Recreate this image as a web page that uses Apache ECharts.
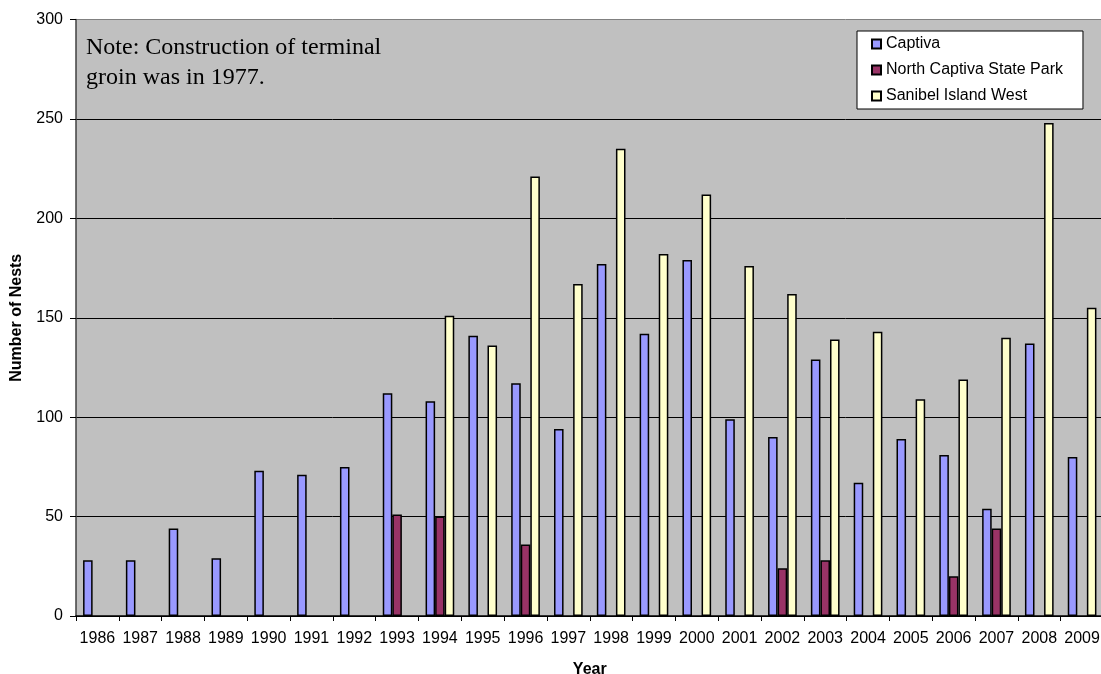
<!DOCTYPE html>
<html>
<head>
<meta charset="utf-8">
<script src="https://cdn.jsdelivr.net/npm/echarts@6/dist/echarts.min.js"></script>
<style>html,body{margin:0;padding:0;background:#fff;}#c{width:1101px;height:674px;}</style>
</head>
<body>
<div id="c"></div>
<script>
var years = ['1986','1987','1988','1989','1990','1991','1992','1993','1994','1995','1996','1997','1998','1999','2000','2001','2002','2003','2004','2005','2006','2007','2008','2009'];
var captiva = [28,28,44,29,73,71,75,112,108,141,117,94,177,142,179,99,90,129,67,89,81,54,137,80];
var northCaptiva = [null,null,null,null,null,null,null,51,50,null,36,null,null,null,null,null,24,28,null,null,20,44,null,null];
var sanibelWest = [null,null,null,null,null,null,null,null,151,136,221,167,235,182,212,176,162,139,143,109,119,140,248,155];
var yTicks = [0,50,100,150,200,250,300];

var chart = echarts.init(document.getElementById('c'), null, {renderer:'canvas'});
var bs = {borderColor:'#000', borderWidth:1.5};
var ff = '"Liberation Sans", Arial, sans-serif';
chart.setOption({
  animation:false,
  grid:{left:76, top:19.5, width:1027.5, height:596.5, show:true, backgroundColor:'#C0C0C0', borderWidth:0, containLabel:false, outerBoundsMode:'none'},
  legend:{
    orient:'vertical', left:857, top:31,
    backgroundColor:'#fff', borderColor:'#000', borderWidth:1,
    padding:[5,20,5,14], itemGap:10, itemWidth:9, itemHeight:9,
    textStyle:{fontFamily:ff, fontSize:16, color:'#000', lineHeight:16},
    data:[{name:'Captiva',icon:'rect'},{name:'North Captiva State Park',icon:'rect'},{name:'Sanibel Island West',icon:'rect'}]
  },
  xAxis:{
    type:'category', data:years,
    name:'Year', nameLocation:'middle', nameGap:46,
    nameTextStyle:{fontFamily:ff, fontWeight:'bold', fontSize:16, color:'#000'},
    axisLine:{lineStyle:{color:'#000', width:1.5}},
    axisTick:{show:true, length:5, interval:0, lineStyle:{color:'#000'}},
    axisLabel:{fontFamily:ff, fontSize:16, color:'#000', margin:15, interval:0, hideOverlap:false}
  },
  yAxis:{
    type:'value', min:0, max:300, interval:50,
    name:'Number of Nests', nameLocation:'middle', nameGap:51,
    nameTextStyle:{fontFamily:ff, fontWeight:'bold', fontSize:16, color:'#000'},
    axisLine:{show:true, lineStyle:{color:'#404040', width:1.5}},
    axisTick:{show:true, length:6, lineStyle:{color:'#000'}},
    axisLabel:{fontFamily:ff, fontSize:16, color:'#000', margin:13},
    splitLine:{show:true, lineStyle:{color:['#000','#000','#000','#000','#000','#000','#808080'], width:1}}
  },
  graphic:[{
    type:'text', left:86, top:33,
    style:{text:'Note: Construction of terminal\ngroin was in 1977.', font:'24px "Liberation Serif", "Times New Roman", serif', fill:'#000', lineHeight:30}
  }],
  series:[
    {name:'Captiva', type:'bar', data:captiva, barGap:'0%', barCategoryGap:'33%', itemStyle:Object.assign({color:'#9999FF'}, bs)},
    {name:'North Captiva State Park', type:'bar', data:northCaptiva, barGap:'0%', barCategoryGap:'33%', itemStyle:Object.assign({color:'#993366'}, bs)},
    {name:'Sanibel Island West', type:'bar', data:sanibelWest, barGap:'0%', barCategoryGap:'33%', itemStyle:Object.assign({color:'#FFFFCC'}, bs)}
  ]
});
</script>
</body>
</html>
